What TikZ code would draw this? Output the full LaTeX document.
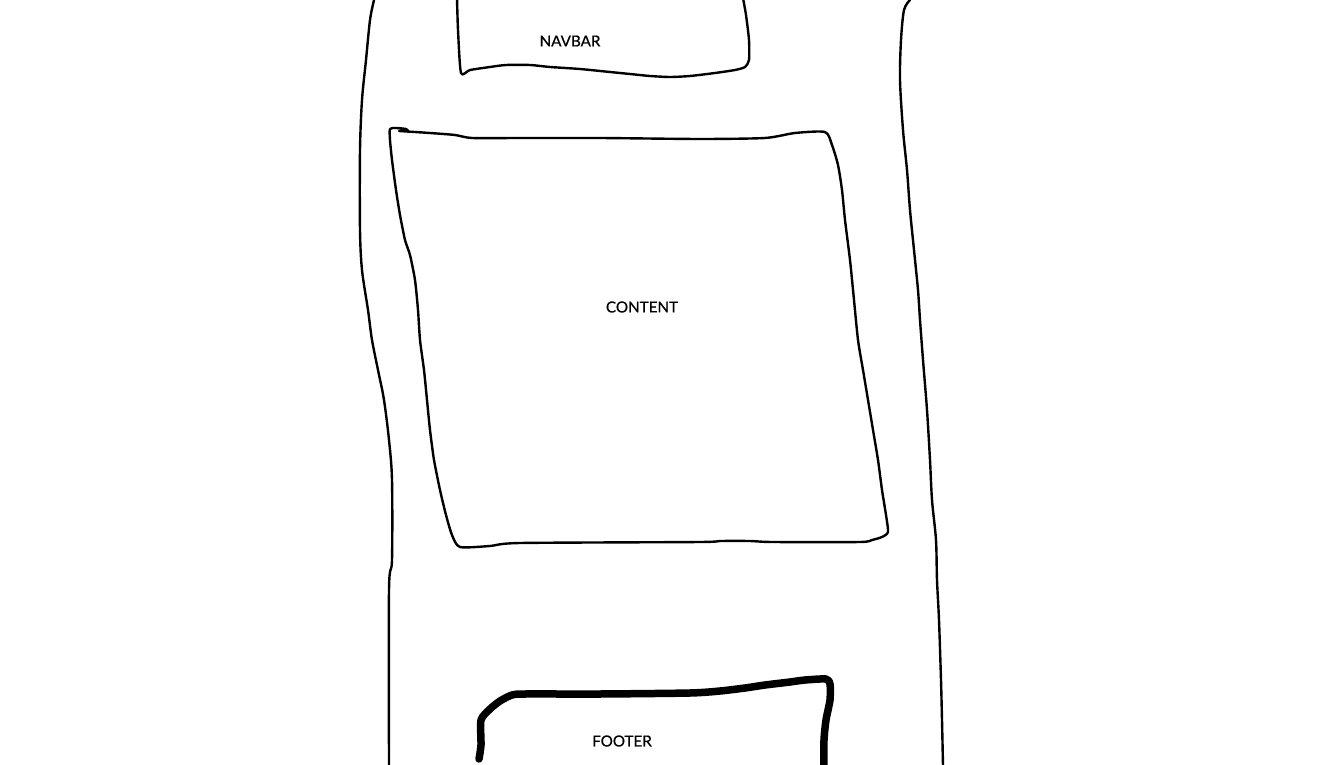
\documentclass[tikz,border=0pt]{standalone}
\usepackage{fontspec}
\setmainfont{Lato}
\begin{document}
\begin{tikzpicture}[x=1pt,y=-1pt,
  sketch/.style={line width=2.4pt,line cap=round,line join=round},
  thick sketch/.style={line width=7.5pt,line cap=round,line join=round},
  lbl/.style={font=\fontsize{15.2}{17}\selectfont\addfontfeature{FakeBold=0.6},inner sep=0pt}]
\useasboundingbox[fill=white] (0,0) rectangle (1323,765);
% outer frame left
\draw[sketch] plot[smooth,tension=0.5] coordinates {(374,0) (370,20) (366,60) (362,100) (360,150) (360,230) (362,270) (368,310) (372,340) (378,370) (384,400) (389,440) (392,480) (392,560) (389,590) (389,766)};
% outer frame right
\draw[sketch] plot[smooth,tension=0.5] coordinates {(910,0) (904,10) (901,40) (900,80) (903,130) (907,170) (910,210) (914,250) (918,290) (920,320) (923,360) (927,410) (930,460) (932,500) (936,540) (937,580) (939,620) (941,680) (942,720) (943,766)};
% navbar
\draw[sketch] plot[smooth,tension=0.4] coordinates {(457,-2) (458,30) (461,73) (470,70) (490,67) (506,65) (530,65) (550,67) (580,69) (610,72) (630,74) (650,76) (670,77) (690,76) (715,73) (735,70) (745,67) (749,60) (749,40) (746,15) (743,-2)};
\node[lbl] (navbar) at (570,41) {NAVBAR};
% content
\draw[sketch] plot[smooth,tension=0.4] coordinates {(399,131) (430,133) (455,135) (472,138) (520,138) (600,138) (700,139) (765,138) (795,133) (825,132) (832,145) (838,165) (842,190) (845,220) (850,260) (854,300) (858,340) (863,370) (868,400) (873,430) (878,460) (882,490) (886,515) (888,532) (882,537) (872,540) (860,542) (772,542) (750,541) (720,541) (700,542) (520,543) (490,546) (460,547) (452,535) (446,515) (440,490) (434,460) (430,430) (427,400) (424,370) (420,340) (418,310) (415,280) (410,255) (405,240) (400,215) (396,190) (392,160) (390,140) (390,129) (396,128) (406,129) (408,131)};
\node[lbl] (content) at (642,307) {CONTENT};
% footer
\draw[thick sketch] plot[smooth,tension=0.4] coordinates {(479,759) (481,745) (481,720) (490,709) (500,701) (512,695) (525,694) (600,694) (690,693) (720,691) (745,688) (765,685) (790,682) (805,680) (826,679) (830,684) (830,700) (826,720) (824,740) (824,766)};
\node[lbl] (footer) at (622,741) {FOOTER};
\end{tikzpicture}
\end{document}
